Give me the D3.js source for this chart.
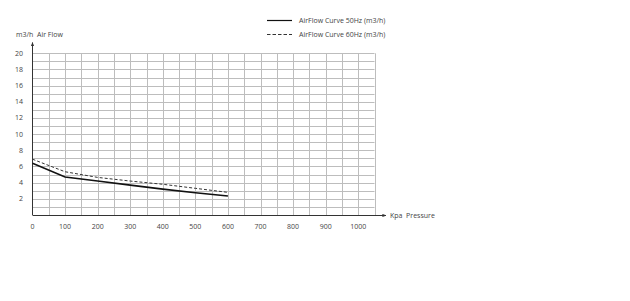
<!DOCTYPE html>
<html>
<head>
<meta charset="utf-8">
<script src="https://cdn.jsdelivr.net/npm/d3@7"></script>
<style>
  body { margin: 0; background: #fff; }
  svg text { font-family: "Open Sans", sans-serif; fill: #444; white-space: pre; }
</style>
</head>
<body>
<svg id="chart"></svg>
<script>
// pressure (Kpa) points along the curves
var pressure = [0, 100, 200, 300, 400, 500, 600];
// air flow (m3/h)
var flow50 = [6.4, 4.7, 4.2, 3.7, 3.2, 2.75, 2.35];
var flow60 = [6.9, 5.35, 4.65, 4.2, 3.8, 3.3, 2.8];
var xTicks = [0, 100, 200, 300, 400, 500, 600, 700, 800, 900, 1000];
var yTicks = [2, 4, 6, 8, 10, 12, 14, 16, 18, 20];
var seriesNames = ["AirFlow Curve 50Hz (m3/h)", "AirFlow Curve 60Hz (m3/h)"];

var W = 630, H = 301;
var svg = d3.select("#chart").attr("width", W).attr("height", H);

var x = d3.scaleLinear().domain([0, 1050]).range([32.5, 374.5]);
var y = d3.scaleLinear().domain([0, 20]).range([215, 53.3]);

var g = svg.append("g");

// grid lines
g.selectAll("line.vgrid")
  .data(d3.range(50, 1051, 50))
  .enter().append("line")
  .attr("class", "vgrid")
  .attr("x1", function(d) { return Math.round(x(d)) + 0.5; })
  .attr("x2", function(d) { return Math.round(x(d)) + 0.5; })
  .attr("y1", y(20)).attr("y2", y(0))
  .attr("stroke", "#bdbdbd").attr("stroke-width", 1);

g.selectAll("line.hgrid")
  .data(d3.range(1, 21, 1))
  .enter().append("line")
  .attr("class", "hgrid")
  .attr("y1", function(d) { return Math.round(y(d)) + 0.5; })
  .attr("y2", function(d) { return Math.round(y(d)) + 0.5; })
  .attr("x1", x(0)).attr("x2", x(1050))
  .attr("stroke", "#bdbdbd").attr("stroke-width", 1);

// axes with arrows
svg.append("defs").append("marker")
  .attr("id", "arrow")
  .attr("viewBox", "0 0 10 10")
  .attr("refX", 9).attr("refY", 5)
  .attr("markerWidth", 4).attr("markerHeight", 4)
  .attr("orient", "auto")
  .append("path").attr("d", "M0,1 L10,5 L0,9 Z").attr("fill", "#333");

g.append("line")
  .attr("x1", 32.5).attr("x2", 32.5)
  .attr("y1", y(0)).attr("y2", 42.5)
  .attr("stroke", "#333").attr("stroke-width", 1)
  .attr("marker-end", "url(#arrow)");

g.append("line")
  .attr("x1", x(0)).attr("x2", 386)
  .attr("y1", 215.5).attr("y2", 215.5)
  .attr("stroke", "#333").attr("stroke-width", 1)
  .attr("marker-end", "url(#arrow)");

// tick labels
g.selectAll("text.xt")
  .data(xTicks)
  .enter().append("text")
  .attr("class", "xt")
  .attr("x", function(d) { return x(d); })
  .attr("y", 229)
  .attr("text-anchor", "middle")
  .style("font-size", "7px")
  .text(function(d) { return d; });

g.selectAll("text.yt")
  .data(yTicks)
  .enter().append("text")
  .attr("class", "yt")
  .attr("x", 23)
  .attr("y", function(d) { return y(d) + 2.5; })
  .attr("text-anchor", "end")
  .style("font-size", "7px")
  .text(function(d) { return d; });

// axis titles
svg.append("text").attr("x", 16).attr("y", 37)
  .style("font-size", "7px").text("m3/h  Air Flow");
svg.append("text").attr("x", 390).attr("y", 218)
  .style("font-size", "7px").text("Kpa  Pressure");

// curves
var line = d3.line()
  .x(function(d) { return x(d[0]); })
  .y(function(d) { return y(d[1]); });

g.append("path")
  .datum(d3.zip(pressure, flow60))
  .attr("d", line)
  .attr("fill", "none").attr("stroke", "#333")
  .attr("stroke-width", 1).attr("stroke-dasharray", "3,2");

g.append("path")
  .datum(d3.zip(pressure, flow50))
  .attr("d", line)
  .attr("fill", "none").attr("stroke", "#111")
  .attr("stroke-width", 1.6);

// legend
var legend = svg.append("g");
legend.append("line")
  .attr("x1", 267).attr("x2", 292).attr("y1", 20.5).attr("y2", 20.5)
  .attr("stroke", "#111").attr("stroke-width", 1.2);
legend.append("line")
  .attr("x1", 267).attr("x2", 292).attr("y1", 34.5).attr("y2", 34.5)
  .attr("stroke", "#333").attr("stroke-width", 1).attr("stroke-dasharray", "3.5,2");
legend.selectAll("text")
  .data(seriesNames)
  .enter().append("text")
  .attr("x", 299)
  .attr("y", function(d, i) { return 23 + i * 14; })
  .style("font-size", "7px")
  .text(function(d) { return d; });
</script>
</body>
</html>
